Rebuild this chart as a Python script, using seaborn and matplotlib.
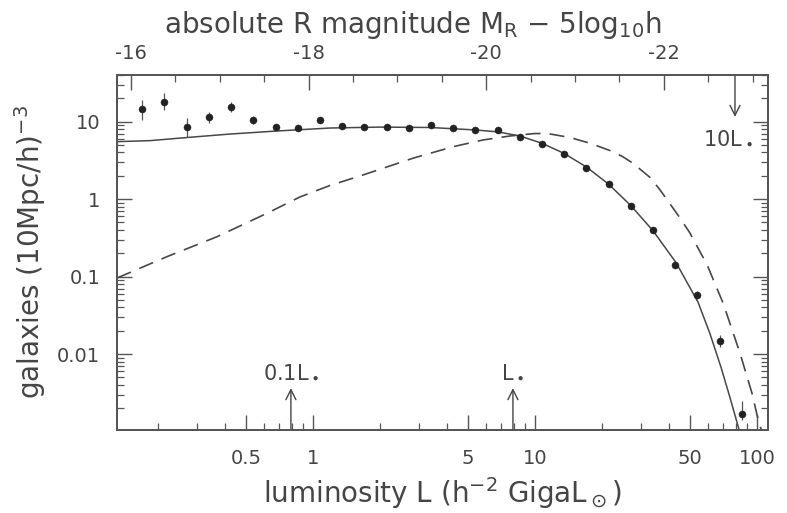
import numpy as np
import pandas as pd
import matplotlib
matplotlib.use("Agg")
import matplotlib.pyplot as plt
import seaborn as sns
from matplotlib.ticker import FixedLocator, NullFormatter, LogLocator

# ---------------- data ----------------
# binned luminosity function measurements
lum_points = [0.170, 0.214, 0.270, 0.340, 0.428, 0.538, 0.678, 0.853, 1.074, 1.352,
              1.702, 2.143, 2.698, 3.396, 4.276, 5.383, 6.776, 8.531, 10.74, 13.52,
              17.02, 21.43, 26.98, 33.96, 42.76, 53.83, 67.76, 85.31]
phi_points = [14.6, 18.1, 8.6, 11.4, 15.6, 10.5, 8.6, 8.2, 10.5, 8.9,
              8.6, 8.6, 8.2, 9.1, 8.4, 7.7, 7.7, 6.36, 5.1, 3.86,
              2.53, 1.56, 0.824, 0.401, 0.142, 0.058, 0.0148, 0.00167]
phi_low = [10.5, 14.2, 6.4, 9.5, 13.5, 9.3, 8.0, 7.7, 10.0, 8.5,
           8.3, 8.3, 7.9, 8.8, 8.1, 7.5, 7.5, 6.2, 4.97, 3.76,
           2.46, 1.51, 0.80, 0.385, 0.135, 0.052, 0.0125, 0.00142]
phi_high = [19.0, 23.2, 11.1, 13.5, 18.1, 11.8, 9.3, 8.7, 11.0, 9.3,
            8.9, 8.9, 8.5, 9.4, 8.7, 7.9, 7.9, 6.5, 5.23, 3.96,
            2.60, 1.61, 0.85, 0.417, 0.149, 0.065, 0.0177, 0.0025]

# solid curve (number density per log L)
lum_solid = [0.131, 0.1845, 0.270, 0.423, 0.675, 1.194, 2.004, 3.365, 5.37, 6.81,
             8.55, 10.76, 13.52, 17.14, 21.5, 27.04, 34.04, 43.15, 54.2, 61.4,
             68.87, 75.5, 81.3, 85.1]
phi_solid = [5.52, 5.69, 6.24, 6.92, 7.55, 8.28, 8.51, 8.41, 7.82, 7.38,
             6.53, 5.25, 3.89, 2.57, 1.549, 0.822, 0.389, 0.1514, 0.0468, 0.0182,
             0.00668, 0.00275, 0.0013, 0.00081]

# dashed curve (luminosity weighted)
lum_dashed = [0.131, 0.2198, 0.370, 0.621, 0.873, 1.194, 1.679, 2.818, 4.276, 5.834,
              7.709, 9.886, 11.32, 14.39, 17.70, 22.44, 24.9, 27.61, 30.0, 32.96,
              36.56, 40.55, 44.98, 49.89, 59.57, 70.31, 83.75, 94.84, 101.2, 106.4]
phi_dashed = [0.096, 0.181, 0.328, 0.658, 1.067, 1.503, 2.051, 3.373, 4.753, 5.808,
              6.53, 7.015, 7.047, 6.237, 5.26, 4.10, 3.51, 2.904, 2.38, 1.905,
              1.315, 0.867, 0.571, 0.363, 0.1416, 0.0454, 0.01028, 0.003126, 0.00141,
              0.00089]

x_ticks = [0.5, 1, 5, 10, 50, 100]
x_ticklabels = ["0.5", "1", "5", "10", "50", "100"]
y_ticks = [0.01, 0.1, 1, 10]
y_ticklabels = ["0.01", "0.1", "1", "10"]
mag_ticks = [-16, -18, -20, -22]
mag_ticklabels = ["-16", "-18", "-20", "-22"]
mag_zero = -18.05          # M = mag_zero - 2.5 log10 L
lstar = 7.95
arrow_marks = [0.1 * lstar, lstar]
arrow_labels = [r"0.1L$_\bullet$", r"L$_\bullet$"]
top_arrow_mark = 10 * lstar
top_arrow_label = r"10L$_\bullet$"

# ---------------- style ----------------
sns.set_theme(style="ticks")
plt.rcParams["font.family"] = ["DejaVu Sans"]
plt.rcParams["mathtext.fontset"] = "dejavusans"
ink = "#454545"
frame = "#555555"

xlim = (0.131, 112)
ylim = (0.00105, 40)

fig = plt.figure(figsize=(7.87, 5.13), dpi=100)
ax = fig.add_axes([0.1487, 0.1618, 0.8272, 0.6920])

df_solid = pd.DataFrame({"L": lum_solid, "phi": phi_solid})
df_dashed = pd.DataFrame({"L": lum_dashed, "phi": phi_dashed})
df_pts = pd.DataFrame({"L": lum_points, "phi": phi_points,
                       "lo": phi_low, "hi": phi_high})

sns.lineplot(data=df_solid, x="L", y="phi", ax=ax, color="#484848", lw=1.1,
             sort=False, estimator=None)
sns.lineplot(data=df_dashed, x="L", y="phi", ax=ax, color="#484848", lw=1.2,
             sort=False, estimator=None, linestyle=(0, (9, 5.5)))
ax.errorbar(df_pts["L"], df_pts["phi"],
            yerr=[df_pts["phi"] - df_pts["lo"], df_pts["hi"] - df_pts["phi"]],
            fmt="none", ecolor="#555555", elinewidth=0.9, capsize=0, zorder=3)
sns.scatterplot(data=df_pts, x="L", y="phi", ax=ax, color="#222222", s=26,
                edgecolor="#222222", linewidth=0.3, zorder=4)

ax.set_xscale("log")
ax.set_yscale("log")
ax.set_xlim(*xlim)
ax.set_ylim(*ylim)

ax.set_xticks(x_ticks)
ax.set_xticklabels(x_ticklabels)
ax.xaxis.set_minor_locator(LogLocator(base=10, subs=np.arange(2, 10)))
ax.xaxis.set_minor_formatter(NullFormatter())
ax.set_yticks(y_ticks)
ax.set_yticklabels(y_ticklabels)
ax.yaxis.set_minor_locator(LogLocator(base=10, subs=np.arange(2, 10), numticks=20))
ax.yaxis.set_minor_formatter(NullFormatter())

ax.tick_params(axis="both", which="major", direction="in", length=10.5, width=1.0,
               color=frame, labelcolor=ink, labelsize=14)
ax.tick_params(axis="both", which="minor", direction="in", length=5, width=0.9,
               color=frame)
ax.tick_params(axis="x", which="both", top=False, bottom=True, pad=14)
ax.tick_params(axis="y", which="both", left=True, right=True, pad=12)
for sp in ax.spines.values():
    sp.set_visible(True)
    sp.set_color(frame)
    sp.set_linewidth(1.3)

ax.set_xlabel(r"luminosity L (h$^{-2}$ GigaL$_\odot$)", fontsize=20, color=ink,
              labelpad=5)
ax.set_ylabel(r"galaxies (10Mpc/h)$^{-3}$", fontsize=20, color=ink, labelpad=7)

# top magnitude axis (linear in magnitude, which is linear in log L)
def l2m(L):
    return mag_zero - 2.5 * np.log10(L)

ax2 = ax.twiny()
ax2.set_xscale("linear")
ax2.set_xlim(l2m(xlim[0]), l2m(xlim[1]))
ax2.xaxis.set_major_locator(FixedLocator(mag_ticks))
ax2.set_xticklabels(mag_ticklabels)
ax2.xaxis.set_minor_locator(FixedLocator(np.arange(-24, -14.9, 0.5)))
ax2.tick_params(axis="x", which="major", direction="in", length=10.5, width=1.0,
                color=frame, labelcolor=ink, labelsize=14, pad=9, top=True,
                bottom=False)
ax2.tick_params(axis="x", which="minor", direction="in", length=5, width=0.9,
                color=frame, top=True, bottom=False)
for sp in ax2.spines.values():
    sp.set_color(frame)
    sp.set_linewidth(1.3)
ax2.set_xlabel(r"absolute R magnitude M$_\mathrm{R}$ $-$ 5log$_{10}$h", fontsize=20,
               color=ink)
ax2.xaxis.label.set_va("bottom")
# place the top label just above the top tick labels
ax2.xaxis.set_label_coords(0.455, 1.0 + 34 / (0.6920 * 513))

# arrows marking 0.1 L*, L* and 10 L*
ytr = ax.get_xaxis_transform()
for xm, lab in zip(arrow_marks, arrow_labels):
    ax.annotate("", xy=(xm, 0.118), xytext=(xm, 0.0), xycoords=ytr, textcoords=ytr,
                arrowprops=dict(arrowstyle="->", color=ink, lw=1.0,
                                mutation_scale=18, shrinkA=0, shrinkB=0))
    ax.text(xm, 0.135, lab, transform=ytr, ha="center", va="bottom",
            fontsize=15, color=ink)
ax.annotate("", xy=(top_arrow_mark, 0.882), xytext=(top_arrow_mark, 1.0),
            xycoords=ytr, textcoords=ytr,
            arrowprops=dict(arrowstyle="->", color=ink, lw=1.0,
                            mutation_scale=18, shrinkA=0, shrinkB=0))
ax.text(top_arrow_mark * 1.21, 0.822, top_arrow_label, transform=ytr, ha="right",
        va="center", fontsize=15, color=ink)

fig.savefig("out.png", dpi=100)
